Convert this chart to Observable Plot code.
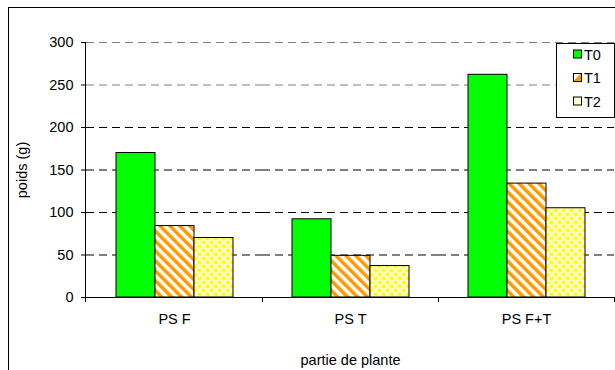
<!DOCTYPE html>
<html><head><meta charset="utf-8">
<script src="https://cdn.jsdelivr.net/npm/d3@7"></script>
<script src="https://cdn.jsdelivr.net/npm/@observablehq/plot@0.6"></script>
<style>
body{margin:0;overflow:hidden;background:#fff;font-family:"Liberation Sans",Arial,sans-serif;}
</style></head><body><div id="chart"></div>
<script>
const categories = ["PS F", "PS T", "PS F+T"];
const series = ["T0", "T1", "T2"];
const valuesT0 = [170, 92, 262];
const valuesT1 = [84, 49, 134];
const valuesT2 = [70, 37, 105];
const yTicks = [0, 50, 100, 150, 200, 250, 300];
const seriesFills = ["#00FF00", "url(#patT1)", "url(#patT2)"];

const data = [];
categories.forEach((c, i) => {
  data.push({cat: c, s: "T0", v: valuesT0[i]});
  data.push({cat: c, s: "T1", v: valuesT1[i]});
  data.push({cat: c, s: "T2", v: valuesT2[i]});
});

const chart = Plot.plot({
  width: 615, height: 370,
  marginLeft: 85, marginTop: 42, marginBottom: 73, marginRight: 0,
  style: {fontFamily: "Liberation Sans, Arial, sans-serif", fontSize: "14.5px", color: "#000", background: "#fff", overflow: "visible"},
  fx: {domain: categories, padding: 0, label: "partie de plante", labelAnchor: "center", labelArrow: "none", tickSize: 0, tickPadding: 16, labelOffset: 67},
  x: {domain: series, axis: null, paddingInner: 0, paddingOuter: 0.74},
  y: {domain: [0, 300], ticks: yTicks, label: "poids (g)", labelAnchor: "center", labelArrow: "none", tickSize: 5, tickPadding: 8, labelOffset: 70},
  color: {type: "ordinal", domain: series, range: seriesFills},
  marks: [
    Plot.gridY(yTicks.filter(t => t > 0 && t < 250), {stroke: "#000", strokeOpacity: 1, strokeDasharray: "8,5"}),
    Plot.gridY(yTicks.filter(t => t >= 250), {stroke: "#808080", strokeOpacity: 1, strokeDasharray: "8,5"}),
    Plot.ruleY([0], {stroke: "#000"}),
    Plot.barY(data, {fx: "cat", x: "s", y: "v", fill: "s", stroke: "#000", strokeWidth: 1})
  ]
});
document.getElementById("chart").appendChild(chart);

const svg = d3.select(chart);
const defs = svg.insert("defs", ":first-child");
const p1 = defs.append("pattern").attr("id", "patT1").attr("patternUnits", "userSpaceOnUse")
  .attr("width", 7).attr("height", 7).attr("patternTransform", "rotate(-45)");
p1.append("rect").attr("width", 7).attr("height", 7).attr("fill", "#fff");
p1.append("rect").attr("width", 3.5).attr("height", 7).attr("fill", "#FF9900");
const p2 = defs.append("pattern").attr("id", "patT2").attr("patternUnits", "userSpaceOnUse")
  .attr("width", 8).attr("height", 8);
p2.append("rect").attr("width", 8).attr("height", 8).attr("fill", "#FFFFB0");
p2.append("rect").attr("x", 1).attr("y", 1).attr("width", 3).attr("height", 3).attr("fill", "#FFFF00");
p2.append("rect").attr("x", 5).attr("y", 5).attr("width", 3).attr("height", 3).attr("fill", "#FFFF00");
const p3 = defs.append("linearGradient").attr("id", "swT1").attr("x1", 0).attr("y1", 0).attr("x2", 1).attr("y2", 1);
p3.append("stop").attr("offset", "50%").attr("stop-color", "#fff");
p3.append("stop").attr("offset", "50%").attr("stop-color", "#FF9900");

const ysc = chart.scale("y");
const y = d3.scaleLinear(ysc.domain, ysc.range);
const fxs = chart.scale("fx");
const fx = d3.scaleBand(fxs.domain, fxs.range);

// y axis line
svg.append("line").attr("x1", 85.5).attr("x2", 85.5).attr("y1", y(300)).attr("y2", y(0)).attr("stroke", "#000");
// category boundary ticks
const bounds = categories.map(c => fx(c)).concat([fx(categories[categories.length - 1]) + fx.bandwidth()]);
bounds.forEach(b => {
  const bx = Math.min(Math.round(b) + 0.5, 614.5);
  svg.append("line").attr("x1", bx).attr("x2", bx).attr("y1", y(0)).attr("y2", y(0) + 5).attr("stroke", "#000");
});
// outer border
svg.append("rect").attr("x", 8.5).attr("y", 7.5).attr("width", 700).attr("height", 500)
  .attr("fill", "none").attr("stroke", "#000");

// legend
const legendSwatch = ["#00FF00", "url(#swT1)", "#FFFFCC"];
const lg = svg.append("g");
lg.append("rect").attr("x", 556.5).attr("y", 43.5).attr("width", 58).attr("height", 74)
  .attr("fill", "#fff").attr("stroke", "#000");
const legendY = [54.5, 78, 101.5];
series.forEach((s, i) => {
  lg.append("rect").attr("x", 573.5).attr("y", legendY[i] - 4.5).attr("width", 8).attr("height", 8)
    .attr("fill", legendSwatch[i]).attr("stroke", "#000");
  lg.append("text").attr("x", 584).attr("y", legendY[i]).attr("dy", "0.36em")
    .attr("text-anchor", "start")
    .attr("font-size", "14.5px").attr("fill", "#000").text(s);
});
</script></body></html>
